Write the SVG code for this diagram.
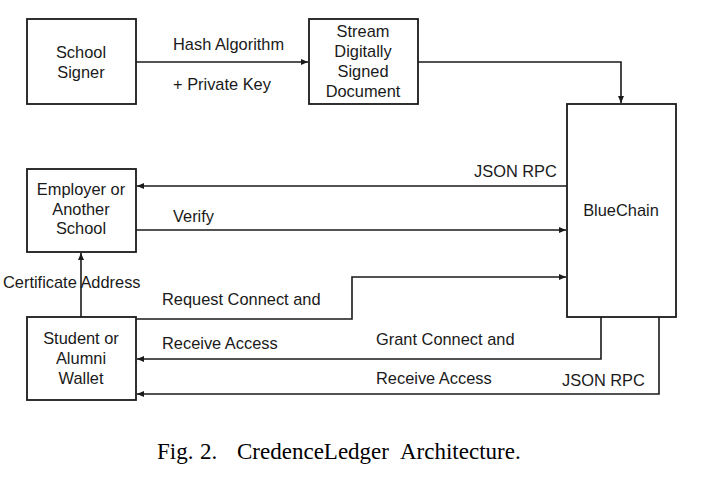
<svg xmlns="http://www.w3.org/2000/svg" width="705" height="479" viewBox="0 0 705 479">
<style>
.box{fill:#fff;stroke:#1a1a1a;stroke-width:1.8}
.ln{fill:none;stroke:#1a1a1a;stroke-width:1.6}
.t{font-family:"Liberation Sans",Arial,sans-serif;font-size:16.4px;fill:#1a1a1a}
.c{text-anchor:middle}
.cap{font-family:"Liberation Serif","Times New Roman",serif;font-size:23px;fill:#000}
</style>
<defs>
<marker id="ah" markerWidth="8" markerHeight="8" refX="7" refY="4" orient="auto" markerUnits="userSpaceOnUse">
<path d="M0,1 L7,4 L0,7 Z" fill="#1a1a1a"/>
</marker>
</defs>
<rect width="705" height="479" fill="#fff"/>
<g id="connectors">
<line class="ln" x1="136" y1="62" x2="308" y2="62" marker-end="url(#ah)"/>
<polyline class="ln" points="418,62 621,62 621,103" marker-end="url(#ah)"/>
<line class="ln" x1="567" y1="186" x2="137" y2="186" marker-end="url(#ah)"/>
<line class="ln" x1="136" y1="230" x2="566" y2="230" marker-end="url(#ah)"/>
<line class="ln" x1="81" y1="317" x2="81" y2="253" marker-end="url(#ah)"/>
<polyline class="ln" points="136,319 352,319 352,277 566,277" marker-end="url(#ah)"/>
<polyline class="ln" points="601,317 601,359 137,359" marker-end="url(#ah)"/>
<polyline class="ln" points="659,317 659,394 137,394" marker-end="url(#ah)"/>
<text class="t" x="173" y="50">Hash Algorithm</text>
<text class="t" x="173" y="90">+ Private Key</text>
<text class="t" x="474" y="177">JSON RPC</text>
<text class="t" x="173" y="222">Verify</text>
<text class="t" x="3" y="288">Certificate Address</text>
<text class="t" x="162" y="305">Request Connect and</text>
<text class="t" x="162" y="349">Receive Access</text>
<text class="t" x="376" y="345">Grant Connect and</text>
<text class="t" x="376" y="384">Receive Access</text>
<text class="t" x="562" y="386">JSON RPC</text>
</g>
<g id="school-signer">
<rect class="box" x="27" y="19" width="109" height="85"/>
<text class="t c" x="81" y="58">School</text>
<text class="t c" x="81" y="78">Signer</text>
</g>
<g id="stream">
<rect class="box" x="309" y="19" width="109" height="85"/>
<text class="t c" x="363" y="37">Stream</text>
<text class="t c" x="363" y="57">Digitally</text>
<text class="t c" x="363" y="77">Signed</text>
<text class="t c" x="363" y="97">Document</text>
</g>
<g id="bluechain">
<rect class="box" x="567" y="104" width="109" height="213"/>
<text class="t c" x="621" y="216">BlueChain</text>
</g>
<g id="employer">
<rect class="box" x="27" y="169" width="109" height="83"/>
<text class="t c" x="81" y="195">Employer or</text>
<text class="t c" x="81" y="215">Another</text>
<text class="t c" x="81" y="234">School</text>
</g>
<g id="student">
<rect class="box" x="27" y="317" width="109" height="83"/>
<text class="t c" x="81" y="344">Student or</text>
<text class="t c" x="81" y="364">Alumni</text>
<text class="t c" x="81" y="384">Wallet</text>
</g>
<g id="caption">
<text class="cap" x="157" y="459">Fig.</text>
<text class="cap" x="200" y="459">2.</text>
<text class="cap" x="237" y="459">CredenceLedger</text>
<text class="cap" x="400" y="459">Architecture.</text>
</g>
</svg>
